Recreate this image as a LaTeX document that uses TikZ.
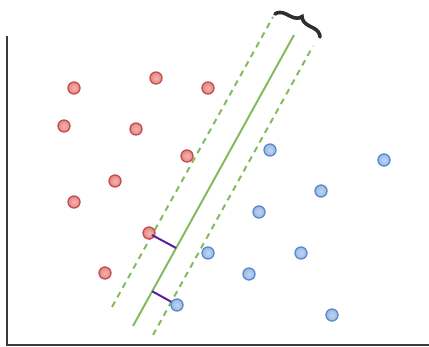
\documentclass[tikz,border=0pt]{standalone}
\definecolor{mRedFill}{HTML}{E88482}
\definecolor{mRedEdge}{HTML}{C0504D}
\definecolor{mBlueFill}{HTML}{98B9E6}
\definecolor{mBlueEdge}{HTML}{5B88CC}
\definecolor{mGreen}{HTML}{82BC5E}
\definecolor{mPurple}{HTML}{5A1E9E}
\definecolor{mAxis}{HTML}{3A3A3A}
\usepackage{tikz}
\usetikzlibrary{calc,decorations.pathreplacing}

\begin{document}
\begin{tikzpicture}[x=1pt, y=-1pt,
  redpt/.style={draw=mRedEdge, circle, inner color=mRedFill!60, outer color=mRedFill, line width=1.3pt, minimum size=12pt, inner sep=0pt},
  bluept/.style={draw=mBlueEdge, circle, inner color=mBlueFill!60, outer color=mBlueFill, line width=1.3pt, minimum size=12pt, inner sep=0pt},
  margin/.style={mGreen, line width=2pt, dash pattern=on 6pt off 5pt}]
\useasboundingbox (0,0) rectangle (429,347);
\draw[mAxis, line width=2pt] (7,36) -- (7,345) -- (429,345);
\coordinate (H1) at (133,326); \coordinate (H2) at (294,35);
\coordinate (L1) at (112,307); \coordinate (L2) at (273,17);
\coordinate (R1) at (153,335); \coordinate (R2) at (313,46);
\draw[margin] (L1)--(L2); \draw[margin] (R1)--(R2);
\draw[mGreen, line width=2pt] (H1)--(H2);
\coordinate (B1) at (275,14); \coordinate (B2) at (320,37);
\draw[decorate, decoration={brace, amplitude=10pt}, mAxis!80!black, line width=3.6pt, line cap=round] (B1)--(B2);
\node[redpt] (r1) at (74,88) {}; \node[redpt] (r2) at (156,78) {}; \node[redpt] (r3) at (208,88) {};
\node[redpt] (r4) at (64,126) {}; \node[redpt] (r5) at (136,129) {}; \node[redpt] (r6) at (187,156) {};
\node[redpt] (r7) at (115,181) {}; \node[redpt] (r8) at (74,202) {}; \node[redpt] (r9) at (149,233) {};
\node[redpt] (r10) at (105,273) {};
\node[bluept] (b1) at (270,150) {}; \node[bluept] (b2) at (384,160) {}; \node[bluept] (b3) at (321,191) {};
\node[bluept] (b4) at (259,212) {}; \node[bluept] (b5) at (208,253) {}; \node[bluept] (b6) at (301,253) {};
\node[bluept] (b7) at (249,274) {}; \node[bluept] (b8) at (177,305) {}; \node[bluept] (b9) at (332,315) {};
\draw[mPurple, line width=2pt] (r9.center)++(3,2) -- ($(H1)!(r9)!(H2)$);
\draw[mPurple, line width=2pt] ($(H1)!(b8)!(H2)$) -- (b8);
\end{tikzpicture}
\end{document}
